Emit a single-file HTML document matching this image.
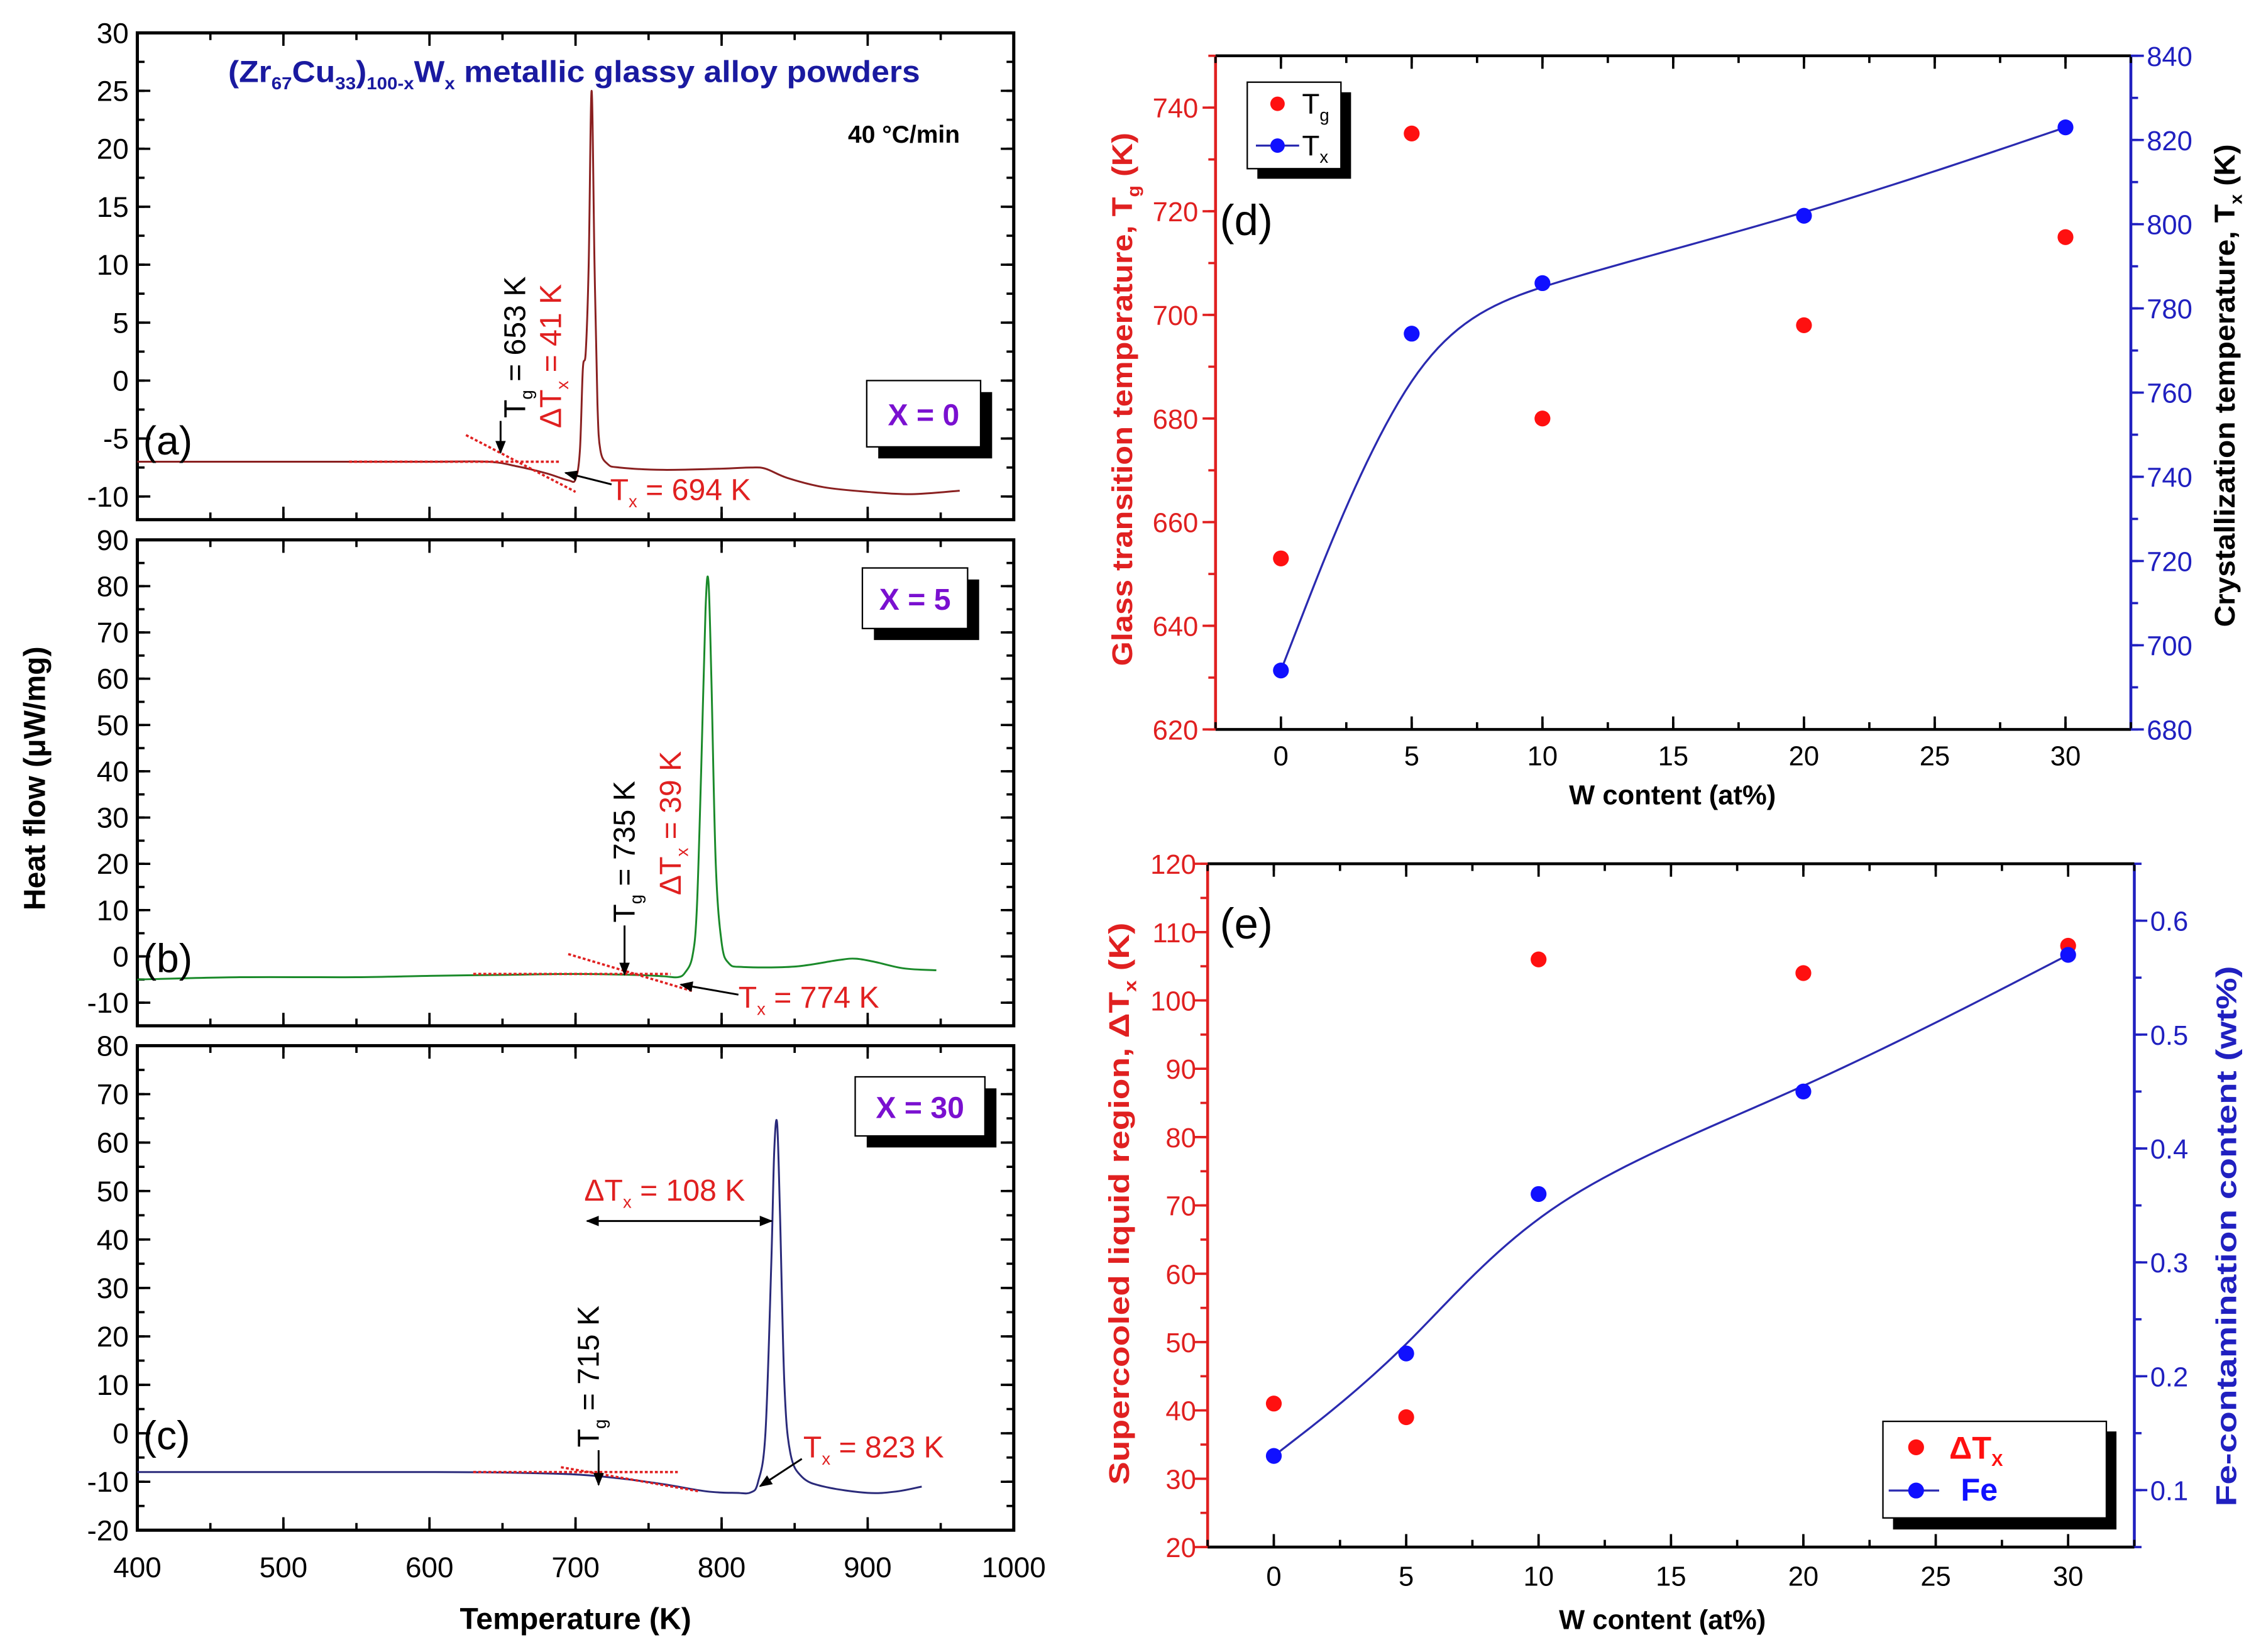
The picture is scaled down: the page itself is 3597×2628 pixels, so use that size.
<!DOCTYPE html>
<html><head><meta charset="utf-8">
<style>
html,body{margin:0;padding:0;background:#fff;}
svg{display:block;}
text{font-family:"Liberation Sans Narrow","Liberation Sans",sans-serif;}
.b{font-family:"Liberation Sans",sans-serif;font-weight:bold;}
.s{font-family:"Liberation Sans",sans-serif;}
</style></head>
<body>
<svg id="fig" width="3597" height="2628" viewBox="0 0 1568 1146" xmlns="http://www.w3.org/2000/svg">
<defs>
<marker id="ah" viewBox="0 0 10 10" refX="9" refY="5" markerWidth="7" markerHeight="7" orient="auto-start-reverse"><path d="M0,1 L10,5 L0,9 z" fill="#000"/></marker>
</defs>
</svg>
<script>
// ---- DSC data (Temperature K, heat flow) ----
const aT=[400,500,600,640,660,680,695,700,703,705,707,709,711,713,715,717,722,730,760,800,820,830,845,870,900,930,963];
const aV=[-7,-7,-7,-7,-7.4,-8,-8.6,-8.5,-6,1,2.5,10,25,10,-2,-6,-7.2,-7.5,-7.7,-7.6,-7.5,-7.6,-8.4,-9.2,-9.6,-9.8,-9.5];
const bT=[400,470,550,600,650,700,740,760,770,775,780,783,786,789,791,793,796,800,805,815,850,880,892,905,925,947];
const bV=[-5,-4.5,-4.5,-4.2,-4,-3.8,-4,-4.3,-4.5,-3.5,0,10,40,75,81,60,20,3,-1.5,-2.3,-2.2,-0.8,-0.5,-1.2,-2.6,-3];
const cT=[400,500,600,650,700,730,760,790,810,820,825,830,834,836,838,840,843,847,855,870,900,920,937];
const cV=[-8,-8,-8,-8.1,-8.5,-9.3,-10.5,-12,-12.3,-12.2,-10,0,35,58,64,45,10,-4,-9,-11,-12.3,-12,-11];
// ---- panel d ----
const wContent=[0,5,10,20,30];
const tgVals=[653,735,680,698,715];
const txVals=[694,774,786,802,823];
// ---- panel e ----
const dTxVals=[41,39,106,104,108];
const feVals=[0.13,0.22,0.36,0.45,0.57];
const xTickLabelsDSC=[400,500,600,700,800,900,1000];
const wTickLabels=[0,5,10,15,20,25,30];

const NS="http://www.w3.org/2000/svg";
const svg=document.getElementById('fig');
function mk(tag,attrs,name,parent,txt){
  const el=document.createElementNS(NS,tag);
  for(const k in attrs) el.setAttribute(k,attrs[k]);
  
  
  if(txt!==undefined) el.textContent=txt;
  (parent||svg).appendChild(el);
  return el;
}
function scale(d0,d1,r0,r1){return v=>r0+(v-d0)/(d1-d0)*(r1-r0);}
function crPath(pts){
  let d='M'+pts[0][0].toFixed(2)+','+pts[0][1].toFixed(2);
  for(let i=0;i<pts.length-1;i++){
    const p0=pts[Math.max(i-1,0)],p1=pts[i],p2=pts[i+1],p3=pts[Math.min(i+2,pts.length-1)];
    const c1=[p1[0]+(p2[0]-p0[0])/6,p1[1]+(p2[1]-p0[1])/6];
    const c2=[p2[0]-(p3[0]-p1[0])/6,p2[1]-(p3[1]-p1[1])/6];
    d+=' C'+c1.map(v=>v.toFixed(2)).join(',')+' '+c2.map(v=>v.toFixed(2)).join(',')+' '+p2[0].toFixed(2)+','+p2[1].toFixed(2);
  }
  return d;
}
function bsPath(pts){
  const P=[pts[0],pts[0],...pts,pts[pts.length-1],pts[pts.length-1]];
  let out=[];
  for(let i=0;i<P.length-3;i++){
    for(let k=0;k<=20;k++){
      const t=k/20,t2=t*t,t3=t2*t;
      const b0=(1-t)**3/6,b1=(3*t3-6*t2+4)/6,b2=(-3*t3+3*t2+3*t+1)/6,b3=t3/6;
      out.push([b0*P[i][0]+b1*P[i+1][0]+b2*P[i+2][0]+b3*P[i+3][0],b0*P[i][1]+b1*P[i+1][1]+b2*P[i+2][1]+b3*P[i+3][1]]);
    }
  }
  return 'M'+out.map(p=>p[0].toFixed(2)+','+p[1].toFixed(2)).join(' L');
}
function ticksY(sx,x0,x1,sy,lo,hi,step,len,col,inward,side,name){
  for(let v=lo;v<=hi+1e-9;v+=step){
    const y=sy(v);
    if(side==='left'){ mk('line',{x1:x0,y1:y,x2:inward?x0+len:x0-len,y2:y,stroke:col,'stroke-width':1.6},name); }
    else { mk('line',{x1:x1,y1:y,x2:inward?x1-len:x1+len,y2:y,stroke:col,'stroke-width':1.6},name); }
  }
}
function ticksX(sx,y0,y1,lo,hi,step,len,name){
  for(let v=lo;v<=hi+1e-9;v+=step){
    const x=sx(v);
    mk('line',{x1:x,y1:y1,x2:x,y2:y1-len,stroke:'#000','stroke-width':1.6},name);
    mk('line',{x1:x,y1:y0,x2:x,y2:y0+len,stroke:'#000','stroke-width':1.6},name);
  }
}

// ---------- DSC panels ----------
const X0=95,X1=703;
const sxT=scale(400,1000,X0,X1);
const panels=[
 {id:'a',y0:22.8,y1:360.5,lo:-12,hi:30,maj:5,labs:[-10,-5,0,5,10,15,20,25,30],T:aT,V:aV,col:'#8a2020'},
 {id:'b',y0:374.5,y1:711.6,lo:-15,hi:90,maj:10,labs:[-10,0,10,20,30,40,50,60,70,80,90],T:bT,V:bV,col:'#1a8a2a'},
 {id:'c',y0:725.4,y1:1061.5,lo:-20,hi:80,maj:10,labs:[-20,-10,0,10,20,30,40,50,60,70,80],T:cT,V:cV,col:'#2a2a7a'}
];
panels.forEach(p=>{
  const sy=scale(p.lo,p.hi,p.y1,p.y0);
  p.sy=sy;
  mk('rect',{x:X0,y:p.y0,width:X1-X0,height:p.y1-p.y0,fill:'none',stroke:'#000','stroke-width':2.2},'panel-'+p.id+'-frame');
  const first=Math.ceil(p.lo/(p.maj/2))*(p.maj/2);
  ticksY(null,X0,X1,sy,first,p.hi,p.maj/2,5,'#000',true,'left','y-minor-tick');
  ticksY(null,X0,X1,sy,first,p.hi,p.maj/2,5,'#000',true,'right','y-minor-tick');
  ticksY(null,X0,X1,sy,p.labs[0],p.hi,p.maj,9,'#000',true,'left','y-major-tick');
  ticksY(null,X0,X1,sy,p.labs[0],p.hi,p.maj,9,'#000',true,'right','y-major-tick');
  ticksX(sxT,p.y0,p.y1,400,1000,50,5,'x-minor-tick');
  ticksX(sxT,p.y0,p.y1,400,1000,100,9,'x-major-tick');
  p.labs.forEach(v=>{
    mk('text',{x:X0-6,y:sy(v)+7,'font-size':20,'text-anchor':'end',fill:'#000'},'y-tick-label',svg,String(v));
  });
  const pts=p.T.map((t,i)=>[sxT(t),sy(p.V[i])]);
  mk('path',{d:crPath(pts),fill:'none',stroke:p.col,'stroke-width':1.3},'dsc-curve-'+p.id);
  mk('text',{x:X0+4,y:sy(p.id==='a'?-5:0)+11,'font-size':28,fill:'#000'},'panel-label-'+p.id,svg,'('+p.id+')');
});
xTickLabelsDSC.forEach(v=>{
  mk('text',{x:sxT(v),y:1094,'font-size':20,'text-anchor':'middle',fill:'#000',class:'s'},'x-tick-label',svg,String(v));
});
mk('text',{x:399,y:1130,'font-size':21,'text-anchor':'middle',fill:'#000',class:'b'},'x-axis-title',svg,'Temperature (K)');
mk('text',{x:0,y:0,'font-size':21,'text-anchor':'middle',fill:'#000',class:'b',transform:'translate(31,540) rotate(-90)'},'y-axis-title',svg,'Heat flow (\u03BCW/mg)');

(function(){
  const t=mk('text',{x:158,y:57,'font-size':21,fill:'#1a1aa0',class:'b',textLength:480,lengthAdjust:'spacingAndGlyphs'},'chart-title');
  const parts=[['(Zr',0],['67',1],['Cu',0],['33',1],[')',0],['100-x',1],['W',0],['x',1],[' metallic glassy alloy powders',0]];
  parts.forEach(([s,sub])=>{mk('tspan',sub?{'font-size':12,dy:5}:{dy:0},'title-part',t,s);});
  const spans=t.querySelectorAll('tspan');
  for(let i=1;i<spans.length;i++){ if(parts[i][1]===0 && parts[i-1][1]===1) spans[i].setAttribute('dy',-5); }
})();
mk('text',{x:588,y:99,'font-size':17,fill:'#000',class:'b'},'heating-rate',svg,'40 \u00B0C/min');

function xbox(x,y,w,h,label,name){
  mk('rect',{x:x+8,y:y+8,width:w,height:h,fill:'#000'},name+'-shadow');
  mk('rect',{x:x,y:y,width:w,height:h,fill:'#fff',stroke:'#000','stroke-width':1},name);
  mk('text',{x:x+w/2,y:y+h/2+8,'font-size':21,'text-anchor':'middle',fill:'#7a10d0',class:'b'},name+'-text',svg,label);
}
xbox(601,264,79,46,'X = 0','composition-box-a');
xbox(598,394,73,42,'X = 5','composition-box-b');
xbox(593,747,90,41,'X = 30','composition-box-c');

function tline(p,t1,v1,t2,v2){mk('line',{x1:sxT(t1),y1:p.sy(v1),x2:sxT(t2),y2:p.sy(v2),stroke:'#e02020','stroke-width':1.6,'stroke-dasharray':'2,1.5'},'tangent-line');}
const [pa,pb,pc]=panels;
tline(pa,545,-7,690,-7); tline(pa,625,-4.7,700,-9.6);
tline(pb,630,-3.8,765,-3.8); tline(pb,695,0.5,780,-7.5);
tline(pc,630,-8,770,-8); tline(pc,690,-7,785,-12);

function arrow(x1,y1,x2,y2,name,both){const a={x1,y1,x2,y2,stroke:'#000','stroke-width':1.3,'marker-end':'url(#ah)'}; if(both)a['marker-start']='url(#ah)'; mk('line',a,name);}
function rot(x,y,name,parts,col,fs){
  const t=mk('text',{x:0,y:0,'font-size':fs||21,fill:col,class:'s',transform:'translate('+x+','+y+') rotate(-90)'},name);
  parts.forEach(([s,sub])=>{mk('tspan',sub?{'font-size':12,dy:5}:{dy:0},'label-part',t,s);});
  const sp=t.querySelectorAll('tspan'); for(let i=1;i<sp.length;i++){ if(!parts[i][1]&&parts[i-1][1]) sp[i].setAttribute('dy',-5);}
  return t;
}
function hor(x,y,name,parts,col,fs){
  const t=mk('text',{x:x,y:y,'font-size':fs||21,fill:col,class:'s'},name);
  parts.forEach(([s,sub])=>{mk('tspan',sub?{'font-size':12,dy:5}:{dy:0},'label-part',t,s);});
  const sp=t.querySelectorAll('tspan'); for(let i=1;i<sp.length;i++){ if(!parts[i][1]&&parts[i-1][1]) sp[i].setAttribute('dy',-5);}
  return t;
}
rot(364,290,'tg-label-a',[['T',0],['g',1],[' = 653 K',0]],'#000');
rot(389,297,'dtx-label-a',[['\u0394T',0],['x',1],[' = 41 K',0]],'#e02020');
arrow(347,292,347,314,'tg-arrow-a');
hor(423,347,'tx-label-a',[['T',0],['x',1],[' = 694 K',0]],'#e02020');
arrow(424,336,392,328,'tx-arrow-a');
rot(440,640,'tg-label-b',[['T',0],['g',1],[' = 735 K',0]],'#000');
rot(472,621,'dtx-label-b',[['\u0394T',0],['x',1],[' = 39 K',0]],'#e02020');
arrow(433,642,433,676,'tg-arrow-b');
hor(512,699,'tx-label-b',[['T',0],['x',1],[' = 774 K',0]],'#e02020');
arrow(512,690,472,683,'tx-arrow-b');
hor(405,833,'dtx-label-c',[['\u0394T',0],['x',1],[' = 108 K',0]],'#e02020');
arrow(407,847,535,847,'dtx-arrow-c',true);
rot(415,1004,'tg-label-c',[['T',0],['g',1],[' = 715 K',0]],'#000');
arrow(415,1006,415,1030,'tg-arrow-c');
hor(557,1011,'tx-label-c',[['T',0],['x',1],[' = 823 K',0]],'#e02020');
arrow(556,1012,527,1031,'tx-arrow-c');

// ---------- panel d ----------
(function(){
  const x0=843,x1=1478,y0=38.7,y1=506;
  const sx=scale(-2.5,32.5,x0,x1), syL=scale(620,750,y1,y0), syR=scale(680,840,y1,y0);
  mk('line',{x1:x0,y1:y0,x2:x1,y2:y0,stroke:'#000','stroke-width':2},'panel-d-top-axis');
  mk('line',{x1:x0,y1:y1,x2:x1,y2:y1,stroke:'#000','stroke-width':2},'panel-d-x-axis');
  mk('line',{x1:x0,y1:y0,x2:x0,y2:y1,stroke:'#e02020','stroke-width':2},'panel-d-left-axis');
  mk('line',{x1:x1,y1:y0,x2:x1,y2:y1,stroke:'#2020c0','stroke-width':2},'panel-d-right-axis');
  ticksX(sx,y0,y1,-2.5,32.5,2.5,5,'x-minor-tick');
  ticksX(sx,y0,y1,0,30,5,9,'x-major-tick');
  ticksY(null,x0,x1,syL,620,750,10,5,'#e02020',false,'left','y-left-minor-tick');
  ticksY(null,x0,x1,syL,620,740,20,9,'#e02020',false,'left','y-left-major-tick');
  ticksY(null,x0,x1,syR,680,840,10,5,'#2020c0',false,'right','y-right-minor-tick');
  ticksY(null,x0,x1,syR,680,840,20,9,'#2020c0',false,'right','y-right-major-tick');
  for(let v=620;v<=740;v+=20) mk('text',{x:x0-12,y:syL(v)+7,'font-size':19,'text-anchor':'end',fill:'#e02020'},'y-left-tick-label',svg,String(v));
  for(let v=680;v<=840;v+=20) mk('text',{x:x1+11,y:syR(v)+7,'font-size':19,fill:'#2020c0'},'y-right-tick-label',svg,String(v));
  wTickLabels.forEach(v=>mk('text',{x:sx(v),y:531,'font-size':19,'text-anchor':'middle',fill:'#000'},'x-tick-label',svg,String(v)));
  mk('text',{x:1160,y:558,'font-size':19,'text-anchor':'middle',fill:'#000',class:'b'},'x-axis-title',svg,'W content (at%)');
  let t=rot(785,462,'y-left-title',[['Glass transition temperature, T',0],['g',1],[' (K)',0]],'#e02020',20);
  t.setAttribute('class','b'); t.setAttribute('textLength','370'); t.setAttribute('lengthAdjust','spacingAndGlyphs');
  t=rot(1550,435,'y-right-title',[['Crystallization temperature, T',0],['x',1],[' (K)',0]],'#000',20);
  t.setAttribute('class','b'); t.setAttribute('textLength','335'); t.setAttribute('lengthAdjust','spacingAndGlyphs');
  mk('path',{d:bsPath(wContent.map((w,i)=>[sx(w),syR(txVals[i])])),fill:'none',stroke:'#2a2ab0','stroke-width':1.4},'tx-line');
  wContent.forEach((w,i)=>mk('circle',{cx:sx(w),cy:syL(tgVals[i]),r:5.5,fill:'#ff1010'},'tg-point'));
  wContent.forEach((w,i)=>mk('circle',{cx:sx(w),cy:syR(txVals[i]),r:5.5,fill:'#1010ff'},'tx-point'));
  mk('text',{x:846,y:163,'font-size':30,fill:'#000'},'panel-label-d',svg,'(d)');
  mk('rect',{x:872,y:64,width:65,height:60,fill:'#000'},'legend-d-shadow');
  mk('rect',{x:865,y:57,width:65,height:60,fill:'#fff',stroke:'#000','stroke-width':1},'legend-d');
  mk('circle',{cx:886,cy:72,r:5,fill:'#ff1010'},'legend-tg-marker');
  hor(903,79,'legend-tg-label',[['T',0],['g',1]],'#000',20);
  mk('line',{x1:871,y1:101,x2:901,y2:101,stroke:'#2a2ab0','stroke-width':1.4},'legend-tx-line');
  mk('circle',{cx:886,cy:101,r:5,fill:'#1010ff'},'legend-tx-marker');
  hor(903,108,'legend-tx-label',[['T',0],['x',1]],'#000',20);
})();

// ---------- panel e ----------
(function(){
  const x0=837.5,x1=1480.4,y0=599.2,y1=1073.2;
  const sx=scale(-2.5,32.5,x0,x1), syL=scale(20,120,y1,y0), syR=scale(0.05,0.65,y1,y0);
  mk('line',{x1:x0,y1:y0,x2:x1,y2:y0,stroke:'#000','stroke-width':2},'panel-e-top-axis');
  mk('line',{x1:x0,y1:y1,x2:x1,y2:y1,stroke:'#000','stroke-width':2},'panel-e-x-axis');
  mk('line',{x1:x0,y1:y0,x2:x0,y2:y1,stroke:'#e02020','stroke-width':2},'panel-e-left-axis');
  mk('line',{x1:x1,y1:y0,x2:x1,y2:y1,stroke:'#2020c0','stroke-width':2},'panel-e-right-axis');
  ticksX(sx,y0,y1,-2.5,32.5,2.5,5,'x-minor-tick');
  ticksX(sx,y0,y1,0,30,5,9,'x-major-tick');
  ticksY(null,x0,x1,syL,20,120,5,5,'#e02020',false,'left','y-left-minor-tick');
  ticksY(null,x0,x1,syL,20,120,10,9,'#e02020',false,'left','y-left-major-tick');
  ticksY(null,x0,x1,syR,0.05,0.65,0.05,5,'#2020c0',false,'right','y-right-minor-tick');
  ticksY(null,x0,x1,syR,0.1,0.6,0.1,9,'#2020c0',false,'right','y-right-major-tick');
  for(let v=20;v<=120;v+=10) mk('text',{x:x0-8,y:syL(v)+7,'font-size':19,'text-anchor':'end',fill:'#e02020'},'y-left-tick-label',svg,String(v));
  for(let k=1;k<=6;k++) mk('text',{x:x1+11,y:syR(k/10)+7,'font-size':19,fill:'#2020c0'},'y-right-tick-label',svg,(k/10).toFixed(1));
  wTickLabels.forEach(v=>mk('text',{x:sx(v),y:1100,'font-size':19,'text-anchor':'middle',fill:'#000'},'x-tick-label',svg,String(v)));
  mk('text',{x:1153,y:1130,'font-size':19,'text-anchor':'middle',fill:'#000',class:'b'},'x-axis-title',svg,'W content (at%)');
  let t=rot(783,1030,'y-left-title',[['Supercooled liquid region, \u0394T',0],['x',1],[' (K)',0]],'#e02020',20);
  t.setAttribute('class','b'); t.setAttribute('textLength','390'); t.setAttribute('lengthAdjust','spacingAndGlyphs');
  t=rot(1551,1045,'y-right-title',[['Fe-contamination content (wt%)',0]],'#2020c0',20);
  t.setAttribute('class','b'); t.setAttribute('textLength','375'); t.setAttribute('lengthAdjust','spacingAndGlyphs');
  mk('path',{d:bsPath(wContent.map((w,i)=>[sx(w),syR(feVals[i])])),fill:'none',stroke:'#2a2ab0','stroke-width':1.4},'fe-line');
  wContent.forEach((w,i)=>mk('circle',{cx:sx(w),cy:syL(dTxVals[i]),r:5.5,fill:'#ff1010'},'dtx-point'));
  wContent.forEach((w,i)=>mk('circle',{cx:sx(w),cy:syR(feVals[i]),r:5.5,fill:'#1010ff'},'fe-point'));
  mk('text',{x:846,y:651,'font-size':30,fill:'#000'},'panel-label-e',svg,'(e)');
  mk('rect',{x:1313,y:993,width:155,height:68,fill:'#000'},'legend-e-shadow');
  mk('rect',{x:1306,y:986,width:155,height:67,fill:'#fff',stroke:'#000','stroke-width':1},'legend-e');
  mk('circle',{cx:1329,cy:1004,r:5.5,fill:'#ff1010'},'legend-dtx-marker');
  t=hor(1352,1012,'legend-dtx-label',[['\u0394T',0],['X',1]],'#ff1010',22);
  t.setAttribute('class','b');
  mk('line',{x1:1310,y1:1034,x2:1345,y2:1034,stroke:'#2a2ab0','stroke-width':1.4},'legend-fe-line');
  mk('circle',{cx:1329,cy:1034,r:5.5,fill:'#1010ff'},'legend-fe-marker');
  mk('text',{x:1360,y:1041,'font-size':22,fill:'#1010ff',class:'b'},'legend-fe-label',svg,'Fe');
})();
</script>
</body></html>
